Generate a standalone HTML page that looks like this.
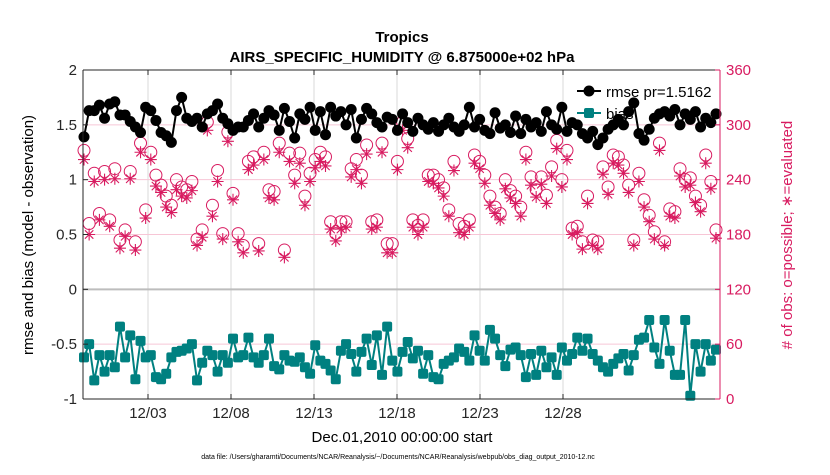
<!DOCTYPE html>
<html><head><meta charset="utf-8"><style>
body{margin:0;background:#fff;width:830px;height:470px;overflow:hidden;font-family:"Liberation Sans",sans-serif}
</style></head><body>
<svg id="chart" width="830" height="470" xmlns="http://www.w3.org/2000/svg" font-family="Liberation Sans, sans-serif">
<g id="grid"></g>
<g id="legend">
 <line x1="577" y1="91" x2="601" y2="91" stroke="#000" stroke-width="2"/>
 <circle cx="589" cy="91" r="5.5" fill="#000"/>
 <text x="606" y="97" font-size="15">rmse pr=1.5162</text>
 <line x1="577" y1="113" x2="601" y2="113" stroke="#008080" stroke-width="2"/>
 <rect x="584" y="108" width="10" height="10" rx="2" fill="#008080"/>
 <text x="606" y="119" font-size="15">bias</text>
</g>
<g id="marks"></g>
<g id="axes"></g>
<text x="402" y="42" text-anchor="middle" font-size="15" font-weight="bold">Tropics</text>
<text x="402" y="62" text-anchor="middle" font-size="15" font-weight="bold">AIRS_SPECIFIC_HUMIDITY @ 6.875000e+02 hPa</text>
<text transform="translate(33,235) rotate(-90)" text-anchor="middle" font-size="15">rmse and bias (model - observation)</text>
<text transform="translate(792,235) rotate(-90)" text-anchor="middle" font-size="15" fill="#d81b60"># of obs: o=possible; ∗=evaluated</text>
<text x="402" y="442" text-anchor="middle" font-size="15">Dec.01,2010 00:00:00 start</text>
<text x="398" y="459" text-anchor="middle" font-size="7">data file: /Users/gharamti/Documents/NCAR/Reanalysis/~/Documents/NCAR/Reanalysis/webpub/obs_diag_output_2010-12.nc</text>
</svg>
<script>
const xTickLabels=["12/03","12/08","12/13","12/18","12/23","12/28"];
const xTickDays=[2,7,12,17,22,27];
const yTicks=[-1,-0.5,0,0.5,1,1.5,2];
const rTicks=[0,60,120,180,240,300,360];
const rmse=[1.39,1.63,1.63,1.68,1.56,1.69,1.71,1.59,1.59,1.53,1.48,1.43,1.66,1.63,1.54,1.43,1.40,1.34,1.63,1.75,1.56,1.53,1.56,1.48,1.60,1.63,1.69,1.56,1.51,1.45,1.48,1.48,1.54,1.60,1.48,1.56,1.63,1.59,1.45,1.65,1.53,1.38,
1.60,1.55,1.66,1.45,1.62,1.41,1.66,1.58,1.62,1.50,1.64,1.38,1.55,1.65,1.60,1.52,1.48,1.57,1.55,1.45,1.60,1.52,1.44,1.56,1.50,1.46,1.52,1.44,1.50,1.56,1.48,1.44,1.50,1.66,1.48,1.55,1.45,1.42,1.61,1.47,1.50,1.43,
1.58,1.42,1.55,1.48,1.52,1.44,1.62,1.50,1.46,1.66,1.44,1.52,1.50,1.42,1.38,1.44,1.32,1.38,1.46,1.50,1.55,1.50,1.62,1.70,1.42,1.36,1.46,1.56,1.60,1.62,1.58,1.64,1.50,1.60,1.55,1.62,1.48,1.56,1.52,1.60];
const bias=[-0.62,-0.5,-0.83,-0.6,-0.75,-0.6,-0.71,-0.34,-0.62,-0.42,-0.82,-0.47,-0.62,-0.6,-0.8,-0.82,-0.77,-0.62,-0.57,-0.56,-0.54,-0.5,-0.83,-0.67,-0.56,-0.6,-0.75,-0.6,-0.67,-0.45,-0.62,-0.6,-0.44,-0.62,-0.67,-0.6,-0.45,-0.7,-0.73,-0.6,-0.65,-0.66,
-0.62,-0.71,-0.77,-0.51,-0.65,-0.68,-0.74,-0.82,-0.56,-0.5,-0.59,-0.75,-0.57,-0.45,-0.69,-0.42,-0.78,-0.34,-0.65,-0.75,-0.57,-0.48,-0.63,-0.56,-0.77,-0.6,-0.8,-0.82,-0.68,-0.65,-0.62,-0.54,-0.57,-0.65,-0.42,-0.56,-0.65,-0.37,-0.45,-0.6,-0.7,-0.55,
-0.53,-0.60,-0.80,-0.59,-0.78,-0.56,-0.71,-0.62,-0.78,-0.53,-0.65,-0.59,-0.44,-0.56,-0.45,-0.59,-0.65,-0.71,-0.75,-0.68,-0.63,-0.59,-0.74,-0.60,-0.46,-0.44,-0.28,-0.53,-0.68,-0.28,-0.56,-0.78,-0.78,-0.28,-0.97,-0.50,-0.75,-0.50,-0.65,-0.55];
const possible=[272,192,247,203,249,196,252,174,185,249,172,280,207,270,245,234,222,212,240,232,229,238,175,185,303,212,250,181,292,225,181,168,260,265,170,270,229,227,280,163,269,245,
269,222,247,262,270,265,194,181,194,194,252,262,245,278,194,196,280,170,170,260,303,285,196,190,196,245,245,240,231,207,260,192,189,196,267,260,245,222,210,203,240,228,
222,210,270,243,229,243,223,254,283,240,272,187,189,172,222,174,172,254,232,267,265,256,234,174,247,218,201,183,280,172,208,205,252,240,242,222,212,267,238,185];
const evaluated=[262,180,238,196,240,189,241,165,178,241,163,270,198,262,233,226,210,204,229,222,220,228,168,177,294,200,238,175,282,218,172,160,251,256,162,262,220,218,270,155,260,236,
258,212,238,253,260,255,186,173,186,188,243,251,236,268,186,188,270,160,160,251,294,275,188,180,188,238,236,231,222,200,250,182,180,188,258,252,236,212,203,196,230,220,
214,200,262,234,221,235,214,244,274,232,262,180,182,164,214,168,164,246,224,258,256,247,226,168,238,210,194,175,272,168,200,198,244,232,234,215,205,258,230,176];

const X0=83,X1=720,Y0=70,Y1=399,N=rmse.length;
const xFirst=84,xLast=716;
function xIdx(i){return xFirst+(xLast-xFirst)*i/(N-1);}
function xDay(d){return 114.8+d*16.6;}
function yL(v){return Y1-(v+1)/3*(Y1-Y0);}
function yR(c){return Y1-c/360*(Y1-Y0);}
const NS="http://www.w3.org/2000/svg";
function mk(p,tag,at){const e=document.createElementNS(NS,tag);for(const k in at)e.setAttribute(k,at[k]);p.appendChild(e);return e;}
const grid=document.getElementById('grid'),marks=document.getElementById('marks'),axes=document.getElementById('axes');
const PINK="#d81b60";
mk(grid,'rect',{x:X0,y:Y0,width:X1-X0,height:Y1-Y0,fill:"#fff"});
xTickDays.forEach(d=>{const l=mk(grid,'line',{x1:xDay(d),x2:xDay(d),y1:Y0,y2:Y1,stroke:"#d9d9d9","stroke-width":1});

});
rTicks.forEach(c=>{const l=mk(grid,'line',{x1:X0,x2:X1,y1:yR(c),y2:yR(c),stroke:"#f7c6d6","stroke-width":1});

});
const z=mk(grid,'line',{x1:X0,x2:X1,y1:yL(0),y2:yL(0),stroke:"#bdbdbd","stroke-width":2});


// obs counts
for(let i=0;i<N;i++){const x=xIdx(i);
 const c=mk(marks,'circle',{cx:x,cy:yR(possible[i]),r:6,fill:"none",stroke:PINK,"stroke-width":1});
 
 
 const y=yR(evaluated[i]);const s=6;
 const g=mk(marks,'path',{d:`M${x-s} ${y}H${x+s}M${x} ${y-s}V${y+s}M${x-4.2} ${y-4.2}L${x+4.2} ${y+4.2}M${x-4.2} ${y+4.2}L${x+4.2} ${y-4.2}`,stroke:PINK,"stroke-width":1.1,fill:"none"});
 
 }
// rmse
let d="";for(let i=0;i<N;i++)d+=(i?"L":"M")+xIdx(i)+" "+yL(rmse[i]);
const rl=mk(marks,'path',{d:d,stroke:"#000","stroke-width":2,fill:"none"});


for(let i=0;i<N;i++){const c=mk(marks,'circle',{cx:xIdx(i),cy:yL(rmse[i]),r:5.5,fill:"#000"});
 
 }
d="";for(let i=0;i<N;i++)d+=(i?"L":"M")+xIdx(i)+" "+yL(bias[i]);
const bl=mk(marks,'path',{d:d,stroke:"#008080","stroke-width":2,fill:"none"});


for(let i=0;i<N;i++){const r=mk(marks,'rect',{x:xIdx(i)-5,y:yL(bias[i])-5,width:10,height:10,rx:2,fill:"#008080"});
 
 }
// axes
mk(axes,'line',{x1:X0,x2:X0,y1:Y0,y2:Y1,stroke:"#262626","stroke-width":1});
mk(axes,'line',{x1:X0,x2:X1,y1:Y0,y2:Y0,stroke:"#262626","stroke-width":1});
mk(axes,'line',{x1:X0,x2:X1,y1:Y1,y2:Y1,stroke:"#262626","stroke-width":1});
mk(axes,'line',{x1:X1,x2:X1,y1:Y0,y2:Y1,stroke:PINK,"stroke-width":1});
yTicks.forEach(v=>{const y=yL(v);mk(axes,'line',{x1:X0,x2:X0+5,y1:y,y2:y,stroke:"#262626"});
 const t=mk(axes,'text',{x:X0-6,y:y+5,"text-anchor":"end","font-size":15,fill:"#262626"});t.textContent=String(v);
 
 });
rTicks.forEach(c=>{const y=yR(c);mk(axes,'line',{x1:X1-5,x2:X1,y1:y,y2:y,stroke:PINK});
 const t=mk(axes,'text',{x:X1+6,y:y+5,"font-size":15,fill:PINK});t.textContent=String(c);
 
 });
xTickDays.forEach((dd,k)=>{const x=xDay(dd);mk(axes,'line',{x1:x,x2:x,y1:Y1,y2:Y1-5,stroke:"#262626"});mk(axes,'line',{x1:x,x2:x,y1:Y0,y2:Y0+5,stroke:"#262626"});
 const t=mk(axes,'text',{x:x,y:Y1+19,"text-anchor":"middle","font-size":15,fill:"#262626"});t.textContent=xTickLabels[k];
 
 });
</script>
</body></html>
